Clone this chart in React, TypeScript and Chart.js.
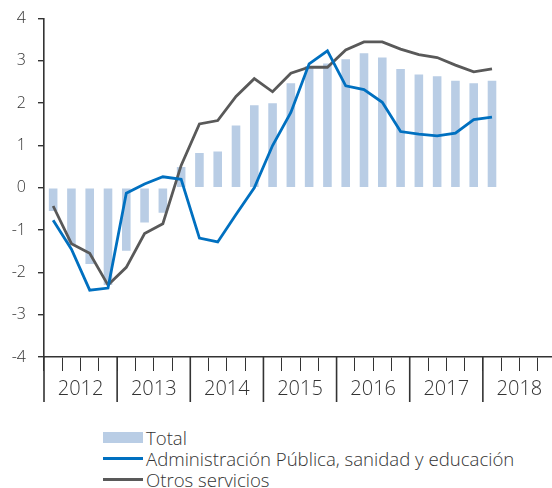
import React, { useEffect, useRef } from "react";
import { Chart, registerables } from "chart.js";

Chart.register(...registerables);

const years = ["2012", "2013", "2014", "2015", "2016", "2017", "2018"];
const quarters = [
  "2012-I", "2012-II", "2012-III", "2012-IV",
  "2013-I", "2013-II", "2013-III", "2013-IV",
  "2014-I", "2014-II", "2014-III", "2014-IV",
  "2015-I", "2015-II", "2015-III", "2015-IV",
  "2016-I", "2016-II", "2016-III", "2016-IV",
  "2017-I", "2017-II", "2017-III", "2017-IV",
  "2018-I", "2018-II", "2018-III", "2018-IV",
];
const seriesNames = ["Total", "Administración Pública, sanidad y educación", "Otros servicios"];
const total = [-0.55, -1.35, -1.8, -2.3, -1.49, -0.82, -0.59, 0.49, 0.82, 0.86, 1.47, 1.95, 2.0, 2.47, 2.88, 2.94, 3.04, 3.18, 3.08, 2.81, 2.68, 2.64, 2.53, 2.47, 2.53];
const admin = [-0.77, -1.45, -2.42, -2.37, -0.13, 0.09, 0.26, 0.2, -1.19, -1.28, -0.63, 0.0, 1.0, 1.78, 2.93, 3.24, 2.41, 2.32, 2.02, 1.33, 1.27, 1.23, 1.29, 1.61, 1.67];
const otros = [-0.43, -1.32, -1.55, -2.3, -1.88, -1.08, -0.85, 0.53, 1.51, 1.59, 2.16, 2.58, 2.27, 2.71, 2.85, 2.85, 3.26, 3.45, 3.45, 3.28, 3.15, 3.08, 2.9, 2.74, 2.81];
const colors = ["#B9CDE5", "#0070C0", "#595959"];

const FONT = "'Open Sans', sans-serif";
const AXIS = "#333333";

const yearPlugin = {
  id: "yearTicks",
  afterDraw(chart: any) {
    const xs = chart.scales.x;
    const ctx = chart.ctx;
    const y0 = chart.chartArea.bottom;
    const slot = xs.getPixelForValue(1) - xs.getPixelForValue(0);
    ctx.save();
    ctx.strokeStyle = AXIS;
    ctx.lineWidth = 1.6;
    for (let i = 0; i <= years.length; i++) {
      const x = xs.getPixelForValue(i * 4) - slot / 2;
      ctx.beginPath();
      ctx.moveTo(x, y0);
      ctx.lineTo(x, y0 + 45);
      ctx.stroke();
    }
    ctx.fillStyle = AXIS;
    ctx.font = `300 20px ${FONT}`;
    ctx.textAlign = "center";
    ctx.textBaseline = "middle";
    years.forEach((yr, i) => {
      const x = xs.getPixelForValue(i * 4) - slot / 2 + 2 * slot;
      ctx.fillText(yr, x, y0 + 32);
    });
    ctx.restore();
  },
};

export default function App() {
  const ref = useRef<HTMLCanvasElement>(null);
  useEffect(() => {
    const chart = new Chart(ref.current!, {
      type: "bar",
      data: {
        labels: quarters,
        datasets: [
          {
            type: "line",
            label: seriesNames[1],
            data: admin,
            borderColor: colors[1],
            backgroundColor: colors[1],
            borderWidth: 2.8,
            pointRadius: 0,
            tension: 0,
            order: 0,
          } as any,
          {
            type: "line",
            label: seriesNames[2],
            data: otros,
            borderColor: colors[2],
            backgroundColor: colors[2],
            borderWidth: 2.8,
            pointRadius: 0,
            tension: 0,
            order: 1,
          } as any,
          {
            type: "bar",
            label: seriesNames[0],
            data: total,
            backgroundColor: colors[0],
            categoryPercentage: 1,
            barPercentage: 0.47,
            order: 2,
          },
        ],
      },
      options: {
        responsive: true,
        maintainAspectRatio: false,
        animation: false,
        layout: { padding: { top: 14, left: 0, right: 0, bottom: 0 } },
        plugins: { legend: { display: false }, tooltip: { enabled: false } },
        scales: {
          x: {
            offset: true,
            grid: { offset: true, drawOnChartArea: false, drawTicks: true, tickLength: 14, color: AXIS, lineWidth: 1 },
            border: { display: true, color: AXIS, width: 1.6 },
            ticks: { display: false },
            afterFit: (s: any) => { s.height = 53; },
          },
          y: {
            min: -4,
            max: 4,
            grid: { drawOnChartArea: false, drawTicks: true, tickLength: 6, color: AXIS, lineWidth: 1.4 },
            border: { display: true, color: AXIS, width: 1.6 },
            ticks: { stepSize: 1, padding: 12, color: AXIS, font: { family: FONT, size: 16, weight: "300" } },
            afterFit: (s: any) => { s.width = 44; },
          },
        },
      },
      plugins: [yearPlugin],
    });
    return () => chart.destroy();
  }, []);

  const legendItems = [0, 1, 2];
  return (
    <div style={{ position: "fixed", left: 0, top: 0, width: 552, height: 488, overflow: "hidden", background: "#fff" }}>
      <div style={{ position: "absolute", left: 0, top: -3, width: 556, height: 413 }}>
        <canvas ref={ref} />
      </div>
      <div style={{ position: "absolute", left: 103, top: 427, fontFamily: FONT, fontWeight: 300, fontSize: 18.6, color: "#333", lineHeight: "21px" }}>
        {legendItems.map((i) => (
          <div key={i} style={{ display: "flex", alignItems: "center", height: 21 }}>
            <span
              style={{
                display: "inline-block",
                width: 40,
                height: i === 0 ? 11 : 3,
                background: colors[i],
                marginRight: 3,
              }}
            />
            <span>{seriesNames[i]}</span>
          </div>
        ))}
      </div>
    </div>
  );
}
